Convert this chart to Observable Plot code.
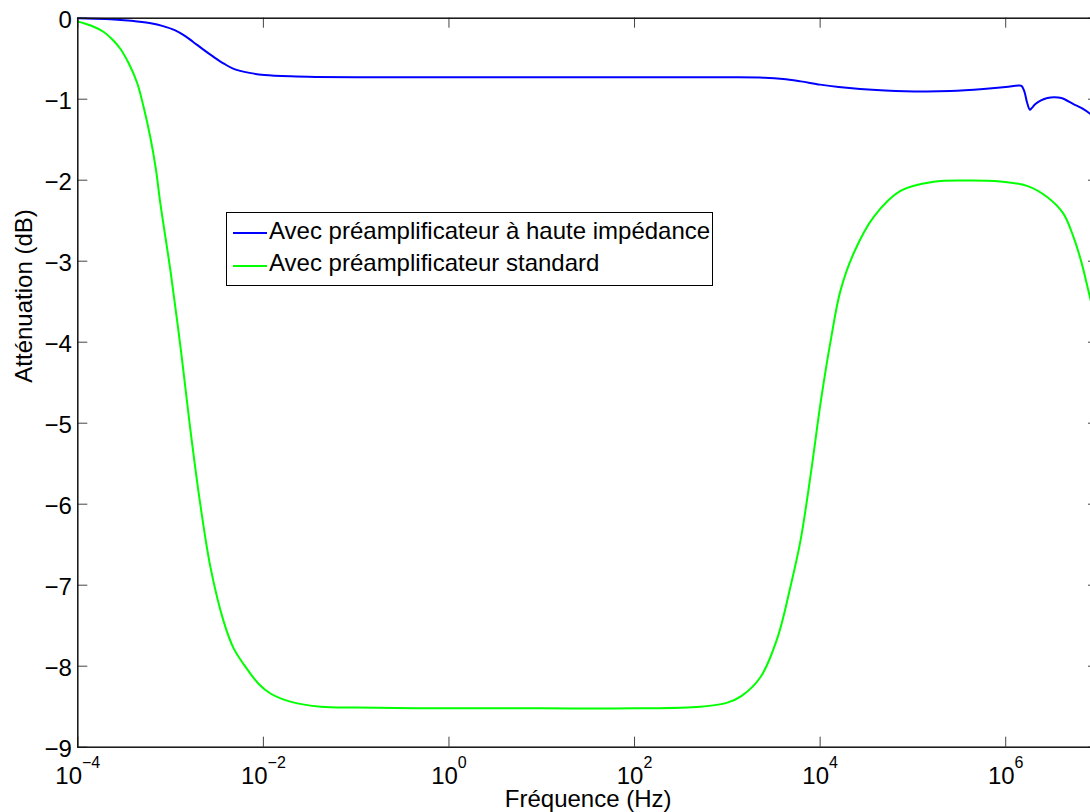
<!DOCTYPE html>
<html><head><meta charset="utf-8">
<script src="https://cdn.jsdelivr.net/npm/d3@7"></script>
<script src="https://cdn.jsdelivr.net/npm/@observablehq/plot@0.6"></script>
<style>
html,body{margin:0;padding:0;overflow:hidden;background:#fff;}
#wrap{position:relative;width:1090px;height:812px;overflow:hidden;font-family:"Liberation Sans",Arial,Helvetica,sans-serif;}
#wrap svg{display:block;max-width:none !important;width:1110px !important;height:812px !important;}
#legend{position:absolute;left:226px;top:212px;width:487px;height:74px;box-sizing:border-box;border:1px solid #000;background:#fff;}
.lg-line{position:absolute;left:6px;width:34px;height:2px;}
.lg-text{position:absolute;left:42px;font-size:24px;line-height:24px;white-space:nowrap;color:#000;}
</style></head><body><div id="wrap"></div>
<script>
// ---- data ----
const seriesNames = ["Avec préamplificateur à haute impédance", "Avec préamplificateur standard"];
const seriesColors = ["#0000ff", "#00ff00"];
const xLabel = "Fréquence (Hz)";
const yLabel = "Atténuation (dB)";
const xTickExp = [-4, -2, 0, 2, 4, 6];
const yTicks = [0, -1, -2, -3, -4, -5, -6, -7, -8, -9];

// log10(frequency) and attenuation (dB), series 1 (blue)
const blueExp = [-4, -3.7, -3.5, -3.36, -3.2, -3.09, -2.95, -2.85, -2.76, -2.65, -2.54, -2.42, -2.32, -2.15, -1.99, -1.7, -1.44, -1, 0, 1, 2, 3, 3.4, 3.6, 3.79, 4.0, 4.2, 4.43, 4.7, 5.11, 5.4, 5.76, 6.0, 6.14, 6.17, 6.2, 6.23, 6.26, 6.28, 6.32, 6.38, 6.45, 6.52, 6.6, 6.73, 6.82, 6.91, 7.0];
const blueDb  = [0, -0.01, -0.025, -0.04, -0.065, -0.095, -0.15, -0.215, -0.29, -0.385, -0.475, -0.565, -0.625, -0.675, -0.70, -0.718, -0.725, -0.728, -0.73, -0.73, -0.73, -0.73, -0.735, -0.75, -0.78, -0.82, -0.85, -0.875, -0.893, -0.905, -0.90, -0.875, -0.85, -0.83, -0.835, -0.90, -1.04, -1.13, -1.11, -1.06, -1.015, -0.985, -0.975, -0.985, -1.06, -1.11, -1.18, -1.27];

// series 2 (green)
const greenExp = [-4, -3.86, -3.72, -3.63, -3.54, -3.45, -3.36, -3.29, -3.22, -3.16, -3.11, -3.0, -2.89, -2.79, -2.68, -2.57, -2.43, -2.32, -2.21, -2.05, -1.92, -1.7, -1.38, -1, 0, 1, 2, 2.71, 3.0, 3.15, 3.36, 3.54, 3.68, 3.79, 3.90, 4.01, 4.12, 4.22, 4.37, 4.58, 4.87, 5.22, 5.58, 5.94, 6.23, 6.45, 6.62, 6.73, 6.82, 6.89, 6.95, 7.0];
const greenDb  = [-0.04, -0.09, -0.17, -0.26, -0.38, -0.56, -0.80, -1.10, -1.46, -1.85, -2.29, -3.13, -4.09, -5.05, -6.0, -6.78, -7.44, -7.78, -7.98, -8.22, -8.34, -8.44, -8.50, -8.51, -8.52, -8.52, -8.52, -8.50, -8.45, -8.37, -8.13, -7.65, -7.02, -6.44, -5.62, -4.71, -3.94, -3.36, -2.88, -2.45, -2.13, -2.02, -2.004, -2.016, -2.07, -2.21, -2.41, -2.70, -3.03, -3.36, -3.65, -3.95];

const rows = (ex, db, s) => ex.map((e, i) => ({f: Math.pow(10, e), db: db[i], series: s}));
const blueRows = rows(blueExp, blueDb, seriesNames[0]);
const greenRows = rows(greenExp, greenDb, seriesNames[1]);

// ---- layout ----
const W = 1110, H = 812, mL = 77.3, mR = 12, mT = 17.7, mB = 65.3;
const iw = W - mL - mR, ih = H - mT - mB;
const font = '"Liberation Sans", Arial, Helvetica, sans-serif';

const chart = Plot.plot({
  width: W, height: H,
  marginLeft: mL, marginRight: mR, marginTop: mT, marginBottom: mB,
  style: {fontFamily: font, fontSize: "24px", background: "white", color: "#000", maxWidth: "none"},
  x: {type: "log", domain: [1e-4, 1e7], axis: null},
  y: {domain: [-9, 0], axis: null},
  marks: [
    Plot.line(blueRows, {x: "f", y: "db", stroke: seriesColors[0], strokeWidth: 2, curve: "catmull-rom"}),
    Plot.line(greenRows, {x: "f", y: "db", stroke: seriesColors[1], strokeWidth: 2, curve: "catmull-rom"}),
    Plot.tickX(xTickExp, {x: e => Math.pow(10, e), insetTop: ih - 10, stroke: "#444", strokeWidth: 1}),
    Plot.tickX(xTickExp, {x: e => Math.pow(10, e), insetBottom: ih - 10, stroke: "#444", strokeWidth: 1}),
    Plot.tickY(yTicks, {y: d => d, insetRight: iw - 10, stroke: "#444", strokeWidth: 1}),
    Plot.tickY(yTicks, {y: d => d, insetLeft: iw - 10, stroke: "#444", strokeWidth: 1}),
    Plot.frame({stroke: "#111", strokeWidth: 1.5}),
    Plot.text(yTicks, {y: d => d, text: d => d === 0 ? "0" : "\u2212" + Math.abs(d), frameAnchor: "left", lineAnchor: "middle", textAnchor: "end", dx: -6, dy: 2.5, fontSize: 24, fill: "#000"}),
    Plot.text(xTickExp, {x: e => Math.pow(10, e), text: e => "10^" + e, frameAnchor: "bottom", lineAnchor: "bottom", dy: 36.5, fontSize: 24, fill: "#000"}),
    Plot.text([xLabel], {text: d => d, frameAnchor: "bottom", lineAnchor: "bottom", dy: 60, fontSize: 24, fill: "#000"}),
    Plot.text([yLabel], {text: d => d, frameAnchor: "left", lineAnchor: "middle", dx: -53, rotate: -90, fontSize: 24, fill: "#000"})
  ]
});

// superscript exponents on x tick labels
d3.select(chart).selectAll("text").each(function () {
  const s = this.textContent;
  if (!/^10\^-?\d+$/.test(s)) return;
  const e = s.slice(3).replace("-", "\u2212");
  const t = d3.select(this);
  t.text(null);
  t.append("tspan").text("10");
  t.append("tspan").attr("font-size", 16).attr("dy", -16).text(e);
});

const wrap = document.getElementById("wrap");
wrap.appendChild(chart);

// legend
const legend = document.createElement("div");
legend.id = "legend";
const lineTops = [19, 52], textTops = [6, 38];
seriesNames.forEach((name, i) => {
  const ln = document.createElement("div");
  ln.className = "lg-line";
  ln.style.top = lineTops[i] + "px";
  ln.style.background = seriesColors[i];
  const tx = document.createElement("div");
  tx.className = "lg-text";
  tx.style.top = textTops[i] + "px";
  tx.textContent = name;
  legend.appendChild(ln);
  legend.appendChild(tx);
});
wrap.appendChild(legend);
</script>
</body></html>
